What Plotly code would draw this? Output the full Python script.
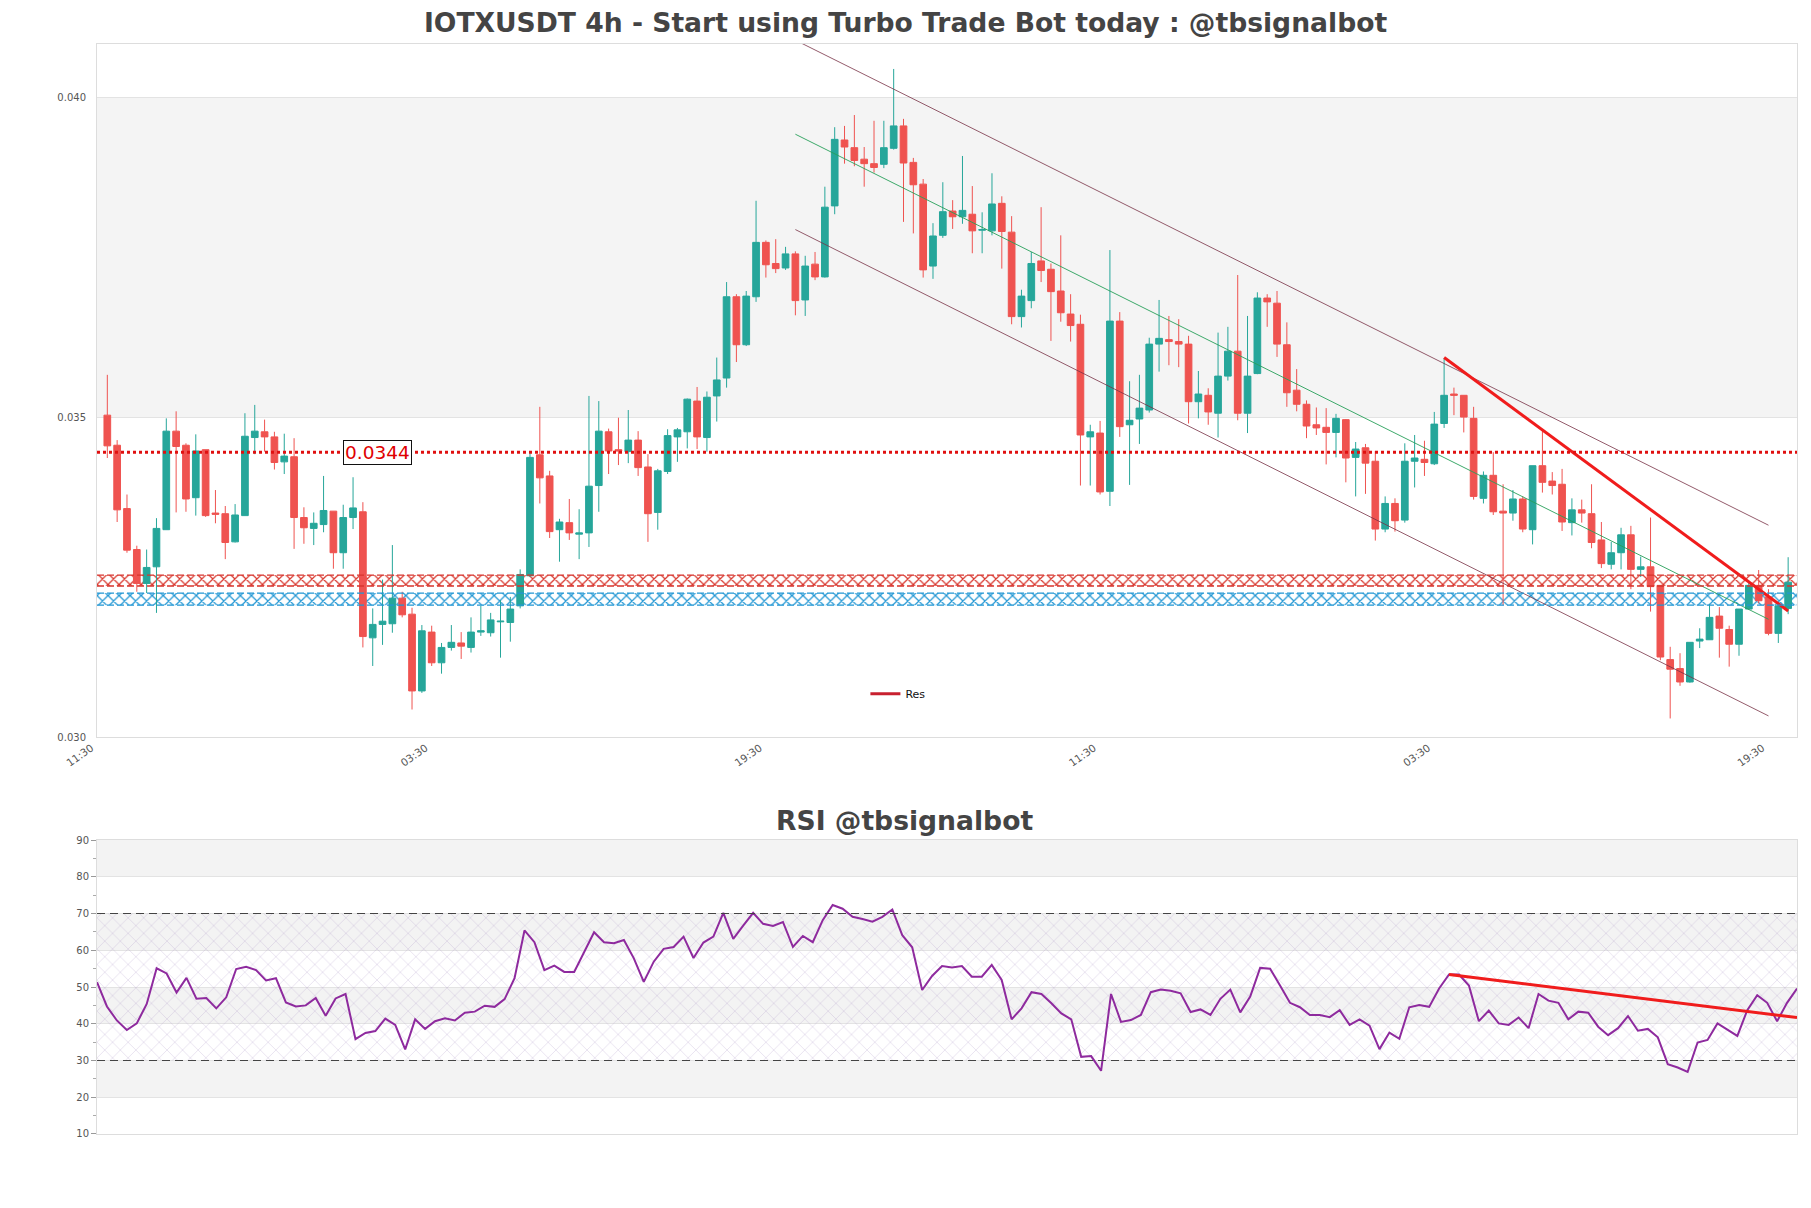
import plotly.graph_objects as go

# 4h candles, index 0 = first candle after the 11:30 mark
opens = [
    0.03503, 0.03456, 0.03357, 0.03293, 0.03240, 0.03266, 0.03324, 0.03478, 0.03456, 0.03374,
    0.03449, 0.03350, 0.03349, 0.03305, 0.03346, 0.03468, 0.03477, 0.03469, 0.03430, 0.03438,
    0.03343, 0.03326, 0.03332, 0.03353, 0.03288, 0.03343, 0.03352, 0.03155, 0.03176, 0.03177,
    0.03217, 0.03192, 0.03072, 0.03164, 0.03116, 0.03140, 0.03147, 0.03140, 0.03164, 0.03163,
    0.03180, 0.03179, 0.03205, 0.03252, 0.03441, 0.03408, 0.03324, 0.03335, 0.03317, 0.03319,
    0.03393, 0.03477, 0.03449, 0.03446, 0.03464, 0.03422, 0.03351, 0.03415, 0.03469, 0.03477,
    0.03525, 0.03468, 0.03533, 0.03561, 0.03688, 0.03613, 0.03688, 0.03773, 0.03740, 0.03733,
    0.03755, 0.03683, 0.03739, 0.03719, 0.03830, 0.03933, 0.03921, 0.03903, 0.03896, 0.03895,
    0.03920, 0.03955, 0.03898, 0.03864, 0.03736, 0.03784, 0.03822, 0.03813, 0.03817, 0.03792,
    0.03791, 0.03834, 0.03789, 0.03657, 0.03682, 0.03744, 0.03731, 0.03697, 0.03661, 0.03645,
    0.03469, 0.03475, 0.03384, 0.03650, 0.03488, 0.03497, 0.03511, 0.03614, 0.03621, 0.03618,
    0.03614, 0.03524, 0.03534, 0.03506, 0.03564, 0.03603, 0.03506, 0.03568, 0.03686, 0.03678,
    0.03613, 0.03542, 0.03520, 0.03488, 0.03484, 0.03476, 0.03496, 0.03437, 0.03452, 0.03431,
    0.03325, 0.03365, 0.03339, 0.03431, 0.03434, 0.03427, 0.03490, 0.03536, 0.03534, 0.03498,
    0.03373, 0.03409, 0.03353, 0.03350, 0.03372, 0.03324, 0.03424, 0.03400, 0.03395, 0.03335,
    0.03355, 0.03349, 0.03308, 0.03270, 0.03288, 0.03316, 0.03262, 0.03266, 0.03237, 0.03121,
    0.03107, 0.03086, 0.03150, 0.03152, 0.03189, 0.03168, 0.03145, 0.03200, 0.03237, 0.03219,
    0.03162, 0.03201,
]
highs = [
    0.03566, 0.03464, 0.03379, 0.03299, 0.03293, 0.03342, 0.03498, 0.03509, 0.03459, 0.03473,
    0.03449, 0.03386, 0.03361, 0.03364, 0.03506, 0.03519, 0.03496, 0.03477, 0.03474, 0.03467,
    0.03359, 0.03351, 0.03408, 0.03353, 0.03363, 0.03406, 0.03367, 0.03201, 0.03246, 0.03300,
    0.03227, 0.03202, 0.03175, 0.03174, 0.03147, 0.03175, 0.03164, 0.03187, 0.03205, 0.03194,
    0.03214, 0.03219, 0.03262, 0.03447, 0.03516, 0.03416, 0.03341, 0.03372, 0.03356, 0.03533,
    0.03525, 0.03482, 0.03499, 0.03511, 0.03478, 0.03442, 0.03419, 0.03481, 0.03483, 0.03529,
    0.03547, 0.03540, 0.03593, 0.03711, 0.03692, 0.03697, 0.03838, 0.03776, 0.03778, 0.03766,
    0.03759, 0.03752, 0.03758, 0.03860, 0.03953, 0.03955, 0.03972, 0.03922, 0.03963, 0.03963,
    0.04044, 0.03966, 0.03905, 0.03872, 0.03803, 0.03867, 0.03839, 0.03908, 0.03861, 0.03820,
    0.03881, 0.03845, 0.03814, 0.03699, 0.03758, 0.03828, 0.03740, 0.03784, 0.03692, 0.03660,
    0.03488, 0.03494, 0.03761, 0.03664, 0.03556, 0.03566, 0.03624, 0.03683, 0.03658, 0.03653,
    0.03627, 0.03572, 0.03545, 0.03632, 0.03641, 0.03722, 0.03658, 0.03695, 0.03692, 0.03697,
    0.03648, 0.03575, 0.03526, 0.03515, 0.03514, 0.03505, 0.03497, 0.03461, 0.03458, 0.03447,
    0.03376, 0.03373, 0.03459, 0.03472, 0.03463, 0.03508, 0.03592, 0.03546, 0.03534, 0.03516,
    0.03415, 0.03445, 0.03395, 0.03386, 0.03376, 0.03424, 0.03480, 0.03414, 0.03419, 0.03373,
    0.03371, 0.03395, 0.03336, 0.03305, 0.03327, 0.03330, 0.03282, 0.03343, 0.03237, 0.03141,
    0.03131, 0.03148, 0.03170, 0.03208, 0.03203, 0.03174, 0.03200, 0.03243, 0.03261, 0.03231,
    0.03209, 0.03281,
]
lows = [
    0.03436, 0.03336, 0.03288, 0.03227, 0.03225, 0.03194, 0.03324, 0.03351, 0.03352, 0.03346,
    0.03344, 0.03334, 0.03278, 0.03304, 0.03346, 0.03442, 0.03446, 0.03418, 0.03411, 0.03294,
    0.03302, 0.03300, 0.03320, 0.03263, 0.03263, 0.03325, 0.03140, 0.03111, 0.03144, 0.03163,
    0.03187, 0.03043, 0.03069, 0.03111, 0.03099, 0.03135, 0.03122, 0.03132, 0.03158, 0.03157,
    0.03124, 0.03149, 0.03201, 0.03250, 0.03365, 0.03311, 0.03274, 0.03308, 0.03278, 0.03297,
    0.03352, 0.03411, 0.03425, 0.03428, 0.03408, 0.03305, 0.03324, 0.03411, 0.03430, 0.03451,
    0.03450, 0.03446, 0.03493, 0.03546, 0.03586, 0.03611, 0.03680, 0.03718, 0.03725, 0.03730,
    0.03659, 0.03658, 0.03714, 0.03718, 0.03817, 0.03896, 0.03892, 0.03860, 0.03882, 0.03889,
    0.03918, 0.03805, 0.03787, 0.03718, 0.03716, 0.03780, 0.03794, 0.03802, 0.03756, 0.03756,
    0.03784, 0.03732, 0.03645, 0.03640, 0.03670, 0.03711, 0.03619, 0.03649, 0.03618, 0.03393,
    0.03393, 0.03379, 0.03361, 0.03469, 0.03394, 0.03458, 0.03507, 0.03571, 0.03581, 0.03578,
    0.03490, 0.03498, 0.03488, 0.03468, 0.03557, 0.03495, 0.03475, 0.03567, 0.03641, 0.03594,
    0.03516, 0.03509, 0.03467, 0.03472, 0.03426, 0.03437, 0.03398, 0.03376, 0.03380, 0.03307,
    0.03320, 0.03321, 0.03335, 0.03390, 0.03408, 0.03425, 0.03483, 0.03503, 0.03476, 0.03371,
    0.03365, 0.03347, 0.03206, 0.03338, 0.03320, 0.03301, 0.03382, 0.03379, 0.03322, 0.03315,
    0.03335, 0.03295, 0.03264, 0.03262, 0.03262, 0.03231, 0.03250, 0.03196, 0.03120, 0.03029,
    0.03080, 0.03085, 0.03139, 0.03152, 0.03124, 0.03110, 0.03127, 0.03199, 0.03209, 0.03159,
    0.03147, 0.03192,
]
closes = [
    0.03455, 0.03355, 0.03292, 0.03240, 0.03265, 0.03326, 0.03478, 0.03454, 0.03372, 0.03447,
    0.03346, 0.03348, 0.03304, 0.03347, 0.03470, 0.03478, 0.03469, 0.03429, 0.03439, 0.03343,
    0.03327, 0.03334, 0.03354, 0.03288, 0.03343, 0.03358, 0.03157, 0.03176, 0.03181, 0.03217,
    0.03191, 0.03072, 0.03166, 0.03116, 0.03140, 0.03148, 0.03142, 0.03164, 0.03166, 0.03183,
    0.03181, 0.03200, 0.03254, 0.03437, 0.03405, 0.03321, 0.03336, 0.03319, 0.03319, 0.03392,
    0.03478, 0.03447, 0.03447, 0.03464, 0.03421, 0.03349, 0.03416, 0.03471, 0.03480, 0.03528,
    0.03469, 0.03531, 0.03558, 0.03688, 0.03613, 0.03689, 0.03773, 0.03738, 0.03732, 0.03755,
    0.03682, 0.03736, 0.03719, 0.03828, 0.03934, 0.03922, 0.03901, 0.03896, 0.03890, 0.03921,
    0.03955, 0.03897, 0.03863, 0.03730, 0.03783, 0.03821, 0.03813, 0.03823, 0.03791, 0.03793,
    0.03833, 0.03790, 0.03657, 0.03689, 0.03740, 0.03729, 0.03696, 0.03663, 0.03643, 0.03472,
    0.03477, 0.03383, 0.03650, 0.03485, 0.03495, 0.03514, 0.03614, 0.03623, 0.03618, 0.03614,
    0.03524, 0.03536, 0.03508, 0.03564, 0.03603, 0.03506, 0.03564, 0.03686, 0.03680, 0.03614,
    0.03538, 0.03520, 0.03486, 0.03483, 0.03476, 0.03498, 0.03436, 0.03450, 0.03428, 0.03325,
    0.03365, 0.03338, 0.03431, 0.03436, 0.03429, 0.03489, 0.03534, 0.03534, 0.03500, 0.03376,
    0.03409, 0.03352, 0.03350, 0.03372, 0.03325, 0.03424, 0.03398, 0.03393, 0.03336, 0.03355,
    0.03350, 0.03304, 0.03271, 0.03288, 0.03316, 0.03262, 0.03266, 0.03235, 0.03125, 0.03106,
    0.03086, 0.03148, 0.03153, 0.03187, 0.03170, 0.03145, 0.03200, 0.03237, 0.03213, 0.03162,
    0.03205, 0.03242,
]

# RSI(14) for each candle
rsi = [
    51.3, 44.7, 40.9, 38.3, 40.1, 45.4, 55.1, 53.7, 48.5, 52.5,
    46.8, 47.0, 44.2, 47.2, 54.9, 55.5, 54.6, 51.8, 52.4, 45.8,
    44.7, 45.0, 47.0, 42.2, 46.9, 48.1, 35.8, 37.5, 38.0, 41.4,
    39.7, 33.0, 41.2, 38.6, 40.7, 41.5, 40.9, 43.0, 43.3, 44.9,
    44.6, 46.7, 52.4, 65.4, 62.2, 54.6, 55.8, 54.1, 54.1, 59.5,
    64.9, 62.2, 61.9, 62.8, 57.8, 51.4, 56.9, 60.4, 60.9, 63.7,
    57.9, 62.1, 63.7, 70.2, 63.1, 66.7, 70.2, 67.2, 66.6, 67.7,
    60.9, 63.9, 62.2, 68.2, 72.3, 71.3, 69.1, 68.5, 67.8, 69.1,
    71.1, 64.1, 60.8, 49.2, 53.0, 55.7, 55.3, 55.7, 52.8, 52.8,
    56.0, 51.9, 41.2, 44.2, 48.6, 48.1, 45.6, 42.8, 41.2, 31.0,
    31.2, 27.2, 48.1, 40.5, 41.0, 42.4, 48.6, 49.3, 49.0, 48.3,
    43.2, 43.9, 42.4, 46.8, 49.3, 43.1, 47.4, 55.2, 55.0, 50.4,
    45.7, 44.5, 42.4, 42.4, 41.8, 43.7, 39.7, 41.2, 39.5, 33.1,
    37.6, 35.9, 44.5, 45.1, 44.6, 49.6, 53.4, 53.4, 50.4, 40.7,
    43.6, 40.1, 39.7, 41.7, 38.8, 48.1, 46.3, 45.7, 41.2, 43.3,
    43.0, 39.2, 36.9, 38.8, 42.1, 38.1, 38.6, 36.3, 29.0, 28.1,
    26.9, 34.9, 35.6, 40.1, 38.5, 36.7, 43.7, 47.8, 45.7, 40.7,
    45.7, 49.6,
]

# x axis labels (every 34 candles)
tick_index = [-1, 33, 67, 101, 135, 169]
tick_text = ['11:30', '03:30', '19:30', '11:30', '03:30', '19:30']

# drawn levels / lines
res_level = 0.03445
res_label = '0.0344'
red_zone = [0.03236, 0.03253]
blue_zone = [0.03206, 0.03225]
channel_x = [70, 169]
channel_upper = [0.04089, 0.03331]
channel_mid = [0.03942, 0.03184]
channel_lower = [0.03793, 0.03033]
trend_x = [136, 171]
trend_y = [0.03593, 0.03197]
rsi_band = [30, 70]
rsi_trend_x = [136, 171]
rsi_trend_y = [53.4, 41.7]

UP = '#26a69a'
DOWN = '#ef5350'
FONT = 'DejaVu Sans'
X_LO, X_HI = -1.05, 171.9

idx = list(range(len(opens)))
n = len(idx)

fig = go.Figure()

# hatched zones (bars spanning the whole width, pattern filled)
for zone, col in [(red_zone, '#d8352c'), (blue_zone, '#2196d3')]:
    fig.add_trace(go.Bar(
        x=[(X_LO + X_HI) / 2], y=[zone[1] - zone[0]], base=[zone[0]], width=[X_HI - X_LO],
        marker=dict(color=col, line=dict(width=0),
                    pattern=dict(shape='x', fgcolor=col, bgcolor='rgba(255,255,255,0)',
                                 fillmode='replace', fgopacity=1,
                                 size=7.8, solidity=0.3)),
        showlegend=False, hoverinfo='skip',
    ))

# 蜡烛图
fig.add_trace(go.Candlestick(
    x=idx, open=opens, high=highs, low=lows, close=closes,
    increasing=dict(line=dict(color=UP, width=1), fillcolor=UP),
    decreasing=dict(line=dict(color=DOWN, width=1), fillcolor=DOWN),
    whiskerwidth=0, showlegend=False, hoverinfo='skip',
))

# channel
for ys, col in [(channel_upper, 'rgba(120,50,70,0.8)'), (channel_mid, 'rgba(40,160,90,0.9)'),
                (channel_lower, 'rgba(120,50,70,0.8)')]:
    fig.add_trace(go.Scatter(x=channel_x, y=ys, mode='lines',
                             line=dict(color=col, width=1),
                             showlegend=False, hoverinfo='skip'))

# resistance trend line
fig.add_trace(go.Scatter(x=trend_x, y=trend_y, mode='lines',
                         line=dict(color='#f01c1c', width=3),
                         showlegend=False, hoverinfo='skip'))

# legend entry
fig.add_trace(go.Scatter(x=[None], y=[None], mode='lines', name='Res',
                         line=dict(color='#c8202f', width=3)))

# RSI hatch 30-70
fig.add_trace(go.Bar(
    x=[(n - 1) / 2], y=[rsi_band[1] - rsi_band[0]], base=[rsi_band[0]], width=[n - 1],
    xaxis='x2', yaxis='y2',
    marker=dict(color='rgba(175,150,200,0.35)', line=dict(width=0),
                pattern=dict(shape='x', fgcolor='rgba(175,150,200,0.35)',
                             bgcolor='rgba(255,255,255,0)', fillmode='replace', fgopacity=1,
                             size=11, solidity=0.13)),
    showlegend=False, hoverinfo='skip',
))
fig.add_trace(go.Scatter(x=idx, y=rsi, xaxis='x2', yaxis='y2', mode='lines',
                         line=dict(color='#8e2a9e', width=2),
                         showlegend=False, hoverinfo='skip'))
fig.add_trace(go.Scatter(x=rsi_trend_x, y=rsi_trend_y, xaxis='x2', yaxis='y2',
                         mode='lines', line=dict(color='#f01c1c', width=3),
                         showlegend=False, hoverinfo='skip'))

shapes = []
# split areas
shapes.append(dict(type='rect', xref='x domain', yref='y', x0=0, x1=1, y0=0.035, y1=0.040,
                   fillcolor='#f4f4f4', line=dict(width=0), layer='below'))
for lo in [20, 40, 60, 80]:
    shapes.append(dict(type='rect', xref='x2 domain', yref='y2', x0=0, x1=1, y0=lo, y1=lo + 10,
                       fillcolor='#f3f3f3', line=dict(width=0), layer='below'))
# zone borders
for zone, col in [(red_zone, '#d8352c'), (blue_zone, '#2196d3')]:
    for lv in zone:
        shapes.append(dict(type='line', xref='x domain', yref='y', x0=0, x1=1, y0=lv, y1=lv,
                           line=dict(color=col, width=1.3, dash='7px,3px')))
# resistance level
shapes.append(dict(type='line', xref='x domain', yref='y', x0=0, x1=1,
                   y0=res_level, y1=res_level, line=dict(color='#e01010', width=3, dash='dot')))
# RSI 30/70
for lv in rsi_band:
    shapes.append(dict(type='line', xref='x2 domain', yref='y2', x0=0, x1=1, y0=lv, y1=lv,
                       line=dict(color='#444', width=1.2, dash='8px,5px')))

fig.update_layout(
    width=1811, height=1208,
    paper_bgcolor='white', plot_bgcolor='white',
    font=dict(family=FONT, color='#555'),
    margin=dict(l=89, r=22, t=36, b=82),
    barmode='overlay', boxgap=0.15, boxgroupgap=0.2,
    title=dict(text='<b>IOTXUSDT 4h - Start using Turbo Trade Bot today : @tbsignalbot</b>',
               x=0.4956, xref='container', xanchor='center',
               y=1 - 15 / 1208, yref='container', yanchor='middle',
               font=dict(size=26.6, color='#444', family=FONT)),
    shapes=shapes,
    showlegend=True,
    legend=dict(x=0.452, y=0.404, xanchor='left', yanchor='middle',
                bgcolor='rgba(0,0,0,0)', font=dict(size=11, color='#111'),
                itemwidth=30),
    annotations=[
        dict(x=27.5, y=res_level, xref='x', yref='y', text=res_label, showarrow=False,
             font=dict(size=18.5, color='#e00000', family=FONT), bgcolor='white',
             bordercolor='#111', borderwidth=1, borderpad=1),
        dict(x=0.475, y=0.288, xref='paper', yref='paper', text='<b>RSI @tbsignalbot</b>',
             showarrow=False, yanchor='middle',
             font=dict(size=26.6, color='#444', family=FONT)),
    ],
    xaxis=dict(domain=[0, 1], anchor='y', range=[X_LO, X_HI],
               tickmode='array', tickvals=tick_index, ticktext=tick_text, tickangle=-35,
               tickfont=dict(size=10.5, color='#555'), showgrid=False, zeroline=False,
               showline=True, linecolor='#ddd', mirror=True, ticks='',
               ticklabelshift=-6, rangeslider=dict(visible=False)),
    yaxis=dict(domain=[0.3642, 1], anchor='x', range=[0.030, 0.04083],
               tickmode='array', tickvals=[0.030, 0.035, 0.040], tickformat='.3f',
               tickfont=dict(size=10, color='#555'), gridcolor='#e3e3e3',
               showline=True, linecolor='#ddd', mirror=True, zeroline=False,
               ticks='', ticklabelstandoff=8),
    xaxis2=dict(domain=[0, 1], anchor='y2', range=[0, n - 1],
                showticklabels=False, showgrid=False, zeroline=False,
                showline=True, linecolor='#ddd', mirror=True, ticks=''),
    yaxis2=dict(domain=[0, 0.2697], anchor='x2', range=[10, 90], dtick=10,
                tickfont=dict(size=10, color='#555'), gridcolor='#e3e3e3',
                showline=True, linecolor='#ddd', mirror=True, zeroline=False,
                ticks='outside', ticklen=5, tickcolor='#999',
                minor=dict(ticks='outside', ticklen=3, dtick=5, tickcolor='#aaa',
                           showgrid=False)),
)

fig.write_html('out.html')
